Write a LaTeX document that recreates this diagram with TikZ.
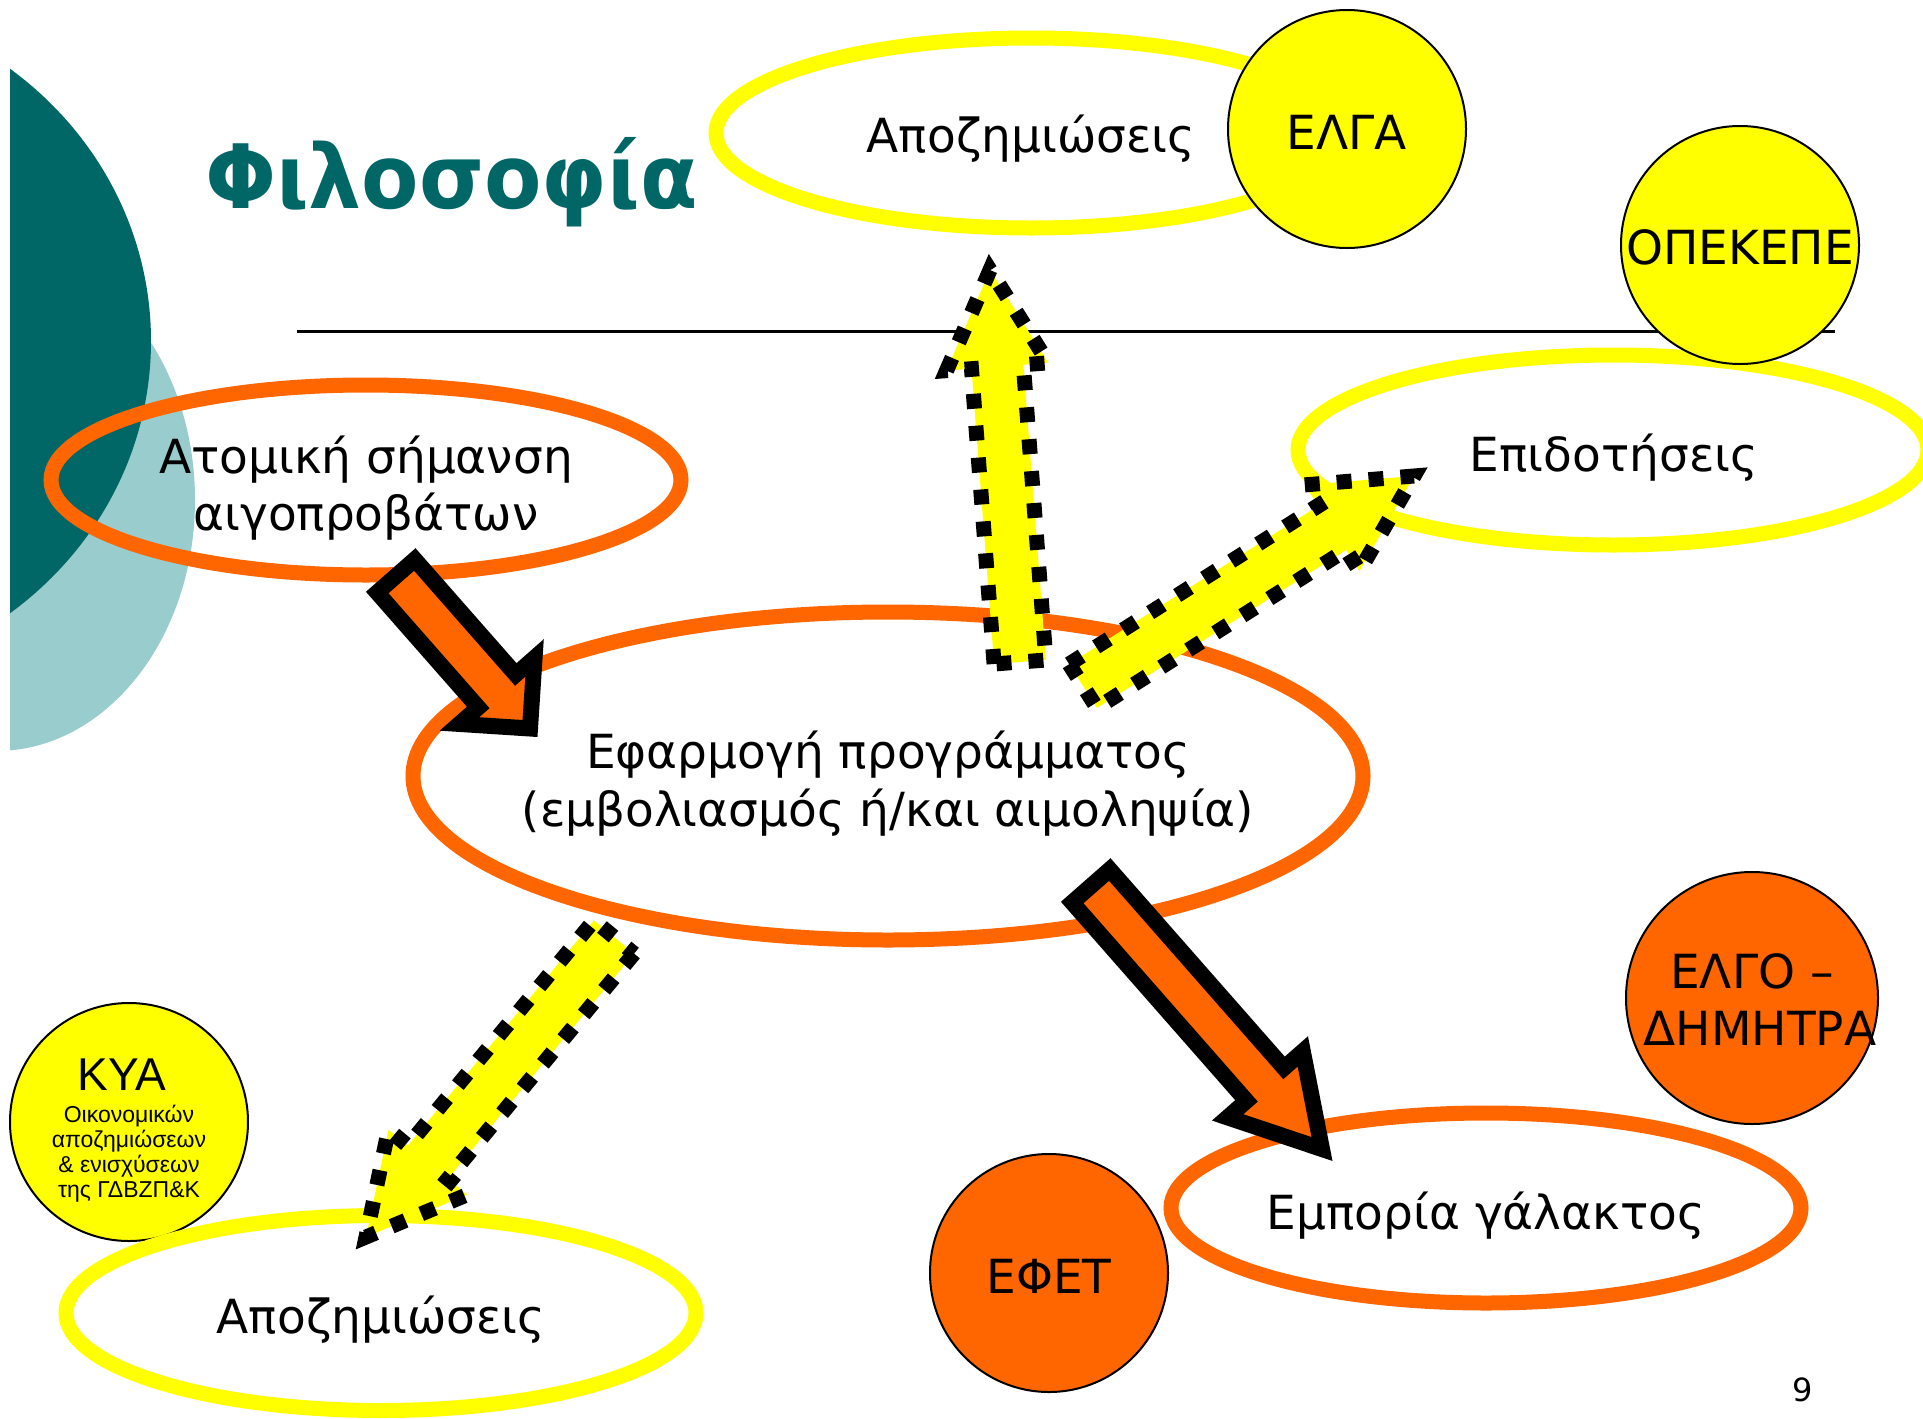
\documentclass[tikz,border=0pt]{standalone}
\usepackage{fontspec}
\setmainfont{DejaVu Sans}
\newfontfamily\arialf{Liberation Sans}
\usepackage{graphicx}
\usetikzlibrary{shapes.geometric,calc}
\definecolor{tealdark}{HTML}{006666}
\definecolor{teallight}{HTML}{99CCCC}
\definecolor{orng}{HTML}{FF6600}
\definecolor{yel}{HTML}{FFFF00}
% #1 tail, #2 tip, #3 style, #4 shaft half width, #5 head half width, #6 head length
\newcommand\blockarrow[6]{%
  \coordinate (hb) at ($(#2)!#6!(#1)$);
  \path[#3] ($(#1)!#4!90:(#2)$) -- ($(hb)!#4!90:(#2)$) -- ($(hb)!#5!90:(#2)$) -- (#2)
     -- ($(hb)!#5!-90:(#2)$) -- ($(hb)!#4!-90:(#2)$) -- ($(#1)!#4!-90:(#2)$) -- cycle;
}
\begin{document}
\begin{tikzpicture}[x=1pt,y=-1pt,
  ring/.style={ellipse, draw=#1, line width=15pt, minimum width=630pt, minimum height=190pt, inner sep=0pt},
  disc/.style={circle, draw=black, line width=2pt, fill=#1, minimum size=238pt, inner sep=0pt},
  lbl/.style={font=\fontsize{47pt}{56pt}\selectfont, inner sep=0pt, anchor=base},
  kyabig/.style={font=\arialf\fontsize{46pt}{50pt}\selectfont, inner sep=0pt, anchor=base},
  kyasmall/.style={font=\arialf\fontsize{23pt}{25pt}\selectfont, inner sep=0pt, anchor=base},
  orangearrow/.style={fill=orng, draw=black, line width=16pt, line join=miter},
  yellowarrow/.style={fill=yel, draw=black, line width=15pt, line join=miter, dash pattern=on 15pt off 17pt}
]
\useasboundingbox (0,0) rectangle (1923,1419);
\fill[white] (0,0) rectangle (1923,1419);
\clip (0,0) rectangle (1923,1419);

% background template shapes
\begin{scope}
  \clip (10,0) rectangle (600,900);
  \fill[teallight] (-4,500) ellipse [x radius=199pt, y radius=251pt];
  \fill[tealdark] (-209,341) ellipse [x radius=360pt, y radius=343pt];
\end{scope}

% title and rule
\node[anchor=base west, inner sep=0pt, text=tealdark] (title) at (205,208)
  {\resizebox{492pt}{71pt}{\bfseries Φιλοσοφία}};
\coordinate (ruleL) at (297,331);
\coordinate (ruleR) at (1835,331);
\draw[line width=3pt] (ruleL) -- (ruleR);

% top group
\node[ring=yel] (apozTop) at (1031,133) {};
\node[lbl] (apozTopT) at (1031,152) {Αποζημιώσεις};
\node[disc=yel] (elga) at (1347,129) {};
\node[lbl] (elgaT) at (1347,149) {ΕΛΓΑ};

\node[ring=yel] (epid) at (1613,450) {};
\node[lbl] (epidT) at (1614,471) {Επιδοτήσεις};
\node[disc=yel] (opekepe) at (1740,245) {};
\node[lbl] (opekepeT) at (1740,264) {ΟΠΕΚΕΠΕ};

% orange ellipses
\node[ring=orng] (atom) at (366,480) {};
\node[lbl] (atomT1) at (366,473) {Ατομική σήμανση};
\node[lbl] (atomT2) at (366,530) {αιγοπροβάτων};

\node[ring=orng, minimum width=950pt, minimum height=328pt] (prog) at (888,776) {};
\node[lbl] (progT1) at (888,768) {Εφαρμογή προγράμματος};
\node[lbl] (progT2) at (888,826) {(εμβολιασμός ή/και αιμοληψία)};

\node[ring=orng] (milk) at (1486,1208) {};
\node[lbl] (milkT) at (1486,1229) {Εμπορία γάλακτος};

% bottom-left group
\node[disc=yel] (kya) at (129,1122) {};
\node[kyabig] (kyaT) at (122,1090) {KYA};
\node[kyasmall] (kyaT1) at (129,1122) {Οικονομικών};
\node[kyasmall] (kyaT2) at (129,1147) {αποζημιώσεων};
\node[kyasmall] (kyaT3) at (129,1172) {\& ενισχύσεων};
\node[kyasmall] (kyaT4) at (129,1197) {της ΓΔΒΖΠ\&Κ};
\node[ring=yel, minimum height=195pt] (apozBot) at (381,1313) {};
\node[lbl] (apozBotT) at (381,1333) {Αποζημιώσεις};

% orange discs
\node[disc=orng] (efet) at (1049,1273) {};
\node[lbl] (efetT) at (1049,1293) {ΕΦΕΤ};
\node[disc=orng, minimum size=252pt] (elgo) at (1752,998) {};
\node[lbl] (elgoT1) at (1752,988) {ΕΛΓΟ –};
\node[lbl] (elgoT2) at (1760,1045) {ΔΗΜΗΤΡΑ};

% block arrows
\coordinate (aTail) at (396,576);   \coordinate (aTip) at (530,728.5);
\blockarrow{aTail}{aTip}{orangearrow}{25pt}{50pt}{50pt}
\coordinate (eTail) at (1091,886);  \coordinate (eTip) at (1322,1149);
\blockarrow{eTail}{eTip}{orangearrow}{25pt}{50pt}{86pt}
\coordinate (bTail) at (1020,662);  \coordinate (bTip) at (990,270);
\blockarrow{bTail}{bTip}{yellowarrow}{26pt}{51pt}{97pt}
\coordinate (cTail) at (1083,686);  \coordinate (cTip) at (1414,476);
\blockarrow{cTail}{cTip}{yellowarrow}{26pt}{51pt}{97pt}
\coordinate (dTail) at (614,937);   \coordinate (dTip) at (366,1237);
\blockarrow{dTail}{dTip}{yellowarrow}{26pt}{51pt}{97pt}

% page number
\node[font=\fontsize{32pt}{36pt}\selectfont, inner sep=0pt, anchor=base] (pagenum) at (1803,1401) {9};
\end{tikzpicture}
\end{document}
